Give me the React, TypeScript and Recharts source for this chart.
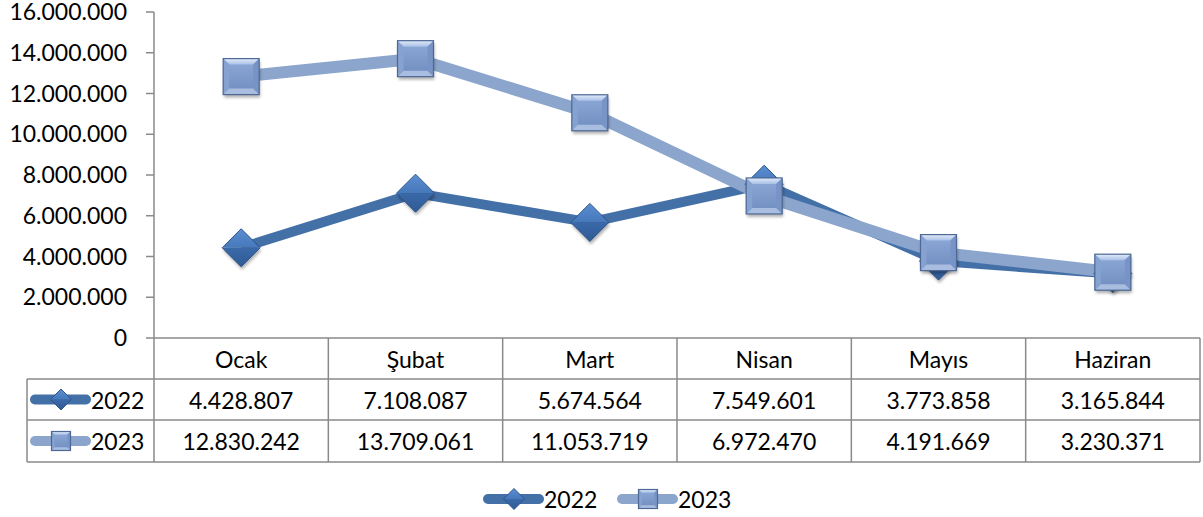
import { LineChart, Line, XAxis, YAxis, Customized } from "recharts";

const MONTHS = ["Ocak", "Şubat", "Mart", "Nisan", "Mayıs", "Haziran"];
const SALES_2022 = [4428807, 7108087, 5674564, 7549601, 3773858, 3165844];
const SALES_2023 = [12830242, 13709061, 11053719, 6972470, 4191669, 3230371];
const Y_TICKS = [0, 2000000, 4000000, 6000000, 8000000, 10000000, 12000000, 14000000, 16000000];
const SERIES = [
  { key: "y2022", name: "2022", values: SALES_2022 },
  { key: "y2023", name: "2023", values: SALES_2023 },
];

const data = MONTHS.map((m, i) => ({ i, month: m, y2022: SALES_2022[i], y2023: SALES_2023[i] }));

// layout
const W = 1203;
const H = 517;
const PLOT_L = 154;
const PLOT_R = 1200;
const PLOT_T = 12;
const PLOT_B = 338;
const CELL_W = (PLOT_R - PLOT_L) / MONTHS.length;
const ROW1 = 379;
const ROW2 = 420;
const ROW_END = 462;
const KEY_L = 27;
const GRID = "#8a8a8a";
const FONT = "Lato, 'Open Sans', sans-serif";
const FS = 23;
const C22 = "#4470a8";
const C23 = "#8ca5cc";

const fmt = (n: number) => String(n).replace(/\B(?=(\d{3})+(?!\d))/g, ".");

function Defs() {
  return (
    <defs>
      <filter id="mkShadow" x="-50%" y="-50%" width="200%" height="200%">
        <feGaussianBlur stdDeviation="1.6" />
      </filter>
      <linearGradient id="sqFace" x1="0" y1="0" x2="0" y2="1">
        <stop offset="0" stopColor="#8eaad8" />
        <stop offset="1" stopColor="#6f8cbf" />
      </linearGradient>
      <linearGradient id="sqTop" x1="0" y1="0" x2="0" y2="1">
        <stop offset="0" stopColor="#e2ecfa" />
        <stop offset="1" stopColor="#a9c0e6" />
      </linearGradient>
      <linearGradient id="dmTop" x1="0" y1="0" x2="0" y2="1">
        <stop offset="0" stopColor="#5a8fd2" />
        <stop offset="1" stopColor="#4678ba" />
      </linearGradient>
      <linearGradient id="dmBot" x1="0" y1="0" x2="0" y2="1">
        <stop offset="0" stopColor="#3b69a9" />
        <stop offset="1" stopColor="#2f5a95" />
      </linearGradient>
    </defs>
  );
}

function Square({ cx, cy, s = 36, shadow = true }: { cx: number; cy: number; s?: number; shadow?: boolean }) {
  const h = s / 2;
  const b = s / 6;
  const x0 = cx - h, x1 = cx + h, y0 = cy - h, y1 = cy + h;
  return (
    <g>
      {shadow && <rect x={x0 + 1} y={y0 + 3} width={s} height={s} fill="#000" opacity={0.3} filter="url(#mkShadow)" />}
      <rect x={x0} y={y0} width={s} height={s} fill="url(#sqFace)" />
      <polygon points={`${x0},${y0} ${x1},${y0} ${x1 - b},${y0 + b} ${x0 + b},${y0 + b}`} fill="url(#sqTop)" />
      <polygon points={`${x0},${y0} ${x0 + b},${y0 + b} ${x0 + b},${y1 - b} ${x0},${y1}`} fill="#86a2d0" />
      <polygon points={`${x1},${y0} ${x1},${y1} ${x1 - b},${y1 - b} ${x1 - b},${y0 + b}`} fill="#7894c6" />
      <polygon points={`${x0},${y1} ${x1},${y1} ${x1 - b},${y1 - b} ${x0 + b},${y1 - b}`} fill="#a9bde0" />
      <rect x={x0} y={y0} width={s} height={s} fill="none" stroke="#4d6894" strokeWidth={1.2} />
    </g>
  );
}

function Diamond({ cx, cy, s = 38, shadow = true }: { cx: number; cy: number; s?: number; shadow?: boolean }) {
  const h = s / 2;
  return (
    <g>
      {shadow && (
        <polygon
          points={`${cx + 1},${cy - h + 3} ${cx + h + 1},${cy + 3} ${cx + 1},${cy + h + 3} ${cx - h + 1},${cy + 3}`}
          fill="#000"
          opacity={0.3}
          filter="url(#mkShadow)"
        />
      )}
      <polygon points={`${cx},${cy - h} ${cx + h},${cy} ${cx - h},${cy}`} fill="url(#dmTop)" />
      <polygon points={`${cx - h},${cy} ${cx + h},${cy} ${cx},${cy + h}`} fill="url(#dmBot)" />
      <polygon
        points={`${cx},${cy - h} ${cx + h},${cy} ${cx},${cy + h} ${cx - h},${cy}`}
        fill="none"
        stroke="#2d548c"
        strokeWidth={1}
      />
    </g>
  );
}

// legend key: thick line with marker, label right after it
function Key({ x, y, name }: { x: number; y: number; name: string }) {
  const is22 = name === "2022";
  return (
    <g>
      <line x1={x + 9} x2={x + 60} y1={y} y2={y} stroke={is22 ? C22 : C23} strokeWidth={10} strokeLinecap="round" />
      {is22 ? <Diamond cx={x + 35} cy={y} s={21} shadow={false} /> : <Square cx={x + 35} cy={y} s={19} shadow={false} />}
      <text x={x + 65} y={y} dominantBaseline="central" fontSize={FS} fontFamily={FONT} fill="#000">
        {name}
      </text>
    </g>
  );
}

function TableSide() {
  const rows = [ROW1, ROW2, ROW_END];
  return (
    <g>
      <Defs />
      {rows.map((y) => (
        <line key={y} x1={KEY_L} x2={PLOT_R} y1={y} y2={y} stroke={GRID} strokeWidth={1.5} />
      ))}
      <line x1={KEY_L} x2={KEY_L} y1={ROW1} y2={ROW_END} stroke={GRID} strokeWidth={1.5} />
      {SERIES.map((s, r) => (
        <Key key={s.key} x={KEY_L - 1} y={(r === 0 ? ROW1 + ROW2 : ROW2 + ROW_END) / 2} name={s.name} />
      ))}
      <Key x={479} y={499} name={SERIES[0].name} />
      <Key x={613} y={499} name={SERIES[1].name} />
    </g>
  );
}

// eslint-disable-next-line @typescript-eslint/no-explicit-any
function TableTick(props: any) {
  const { x, payload } = props;
  const i = payload.value as number;
  const left = x - CELL_W / 2;
  const right = x + CELL_W / 2;
  const txt = { textAnchor: "middle" as const, dominantBaseline: "central" as const, fontSize: FS, fontFamily: FONT, fill: "#000" };
  return (
    <g>
      {i === 0 && <line x1={left} x2={left} y1={PLOT_B} y2={ROW_END} stroke={GRID} strokeWidth={1.5} />}
      <line x1={right} x2={right} y1={PLOT_B} y2={ROW_END} stroke={GRID} strokeWidth={1.5} />
      <text x={x} y={(PLOT_B + ROW1) / 2} {...txt}>{MONTHS[i]}</text>
      <text x={x} y={(ROW1 + ROW2) / 2} {...txt}>{fmt(SALES_2022[i])}</text>
      <text x={x} y={(ROW2 + ROW_END) / 2} {...txt}>{fmt(SALES_2023[i])}</text>
    </g>
  );
}

export default function App() {
  return (
    <div style={{ position: "absolute", left: 0, top: 0, width: W, height: H, background: "#fff" }}>
      <LineChart width={W} height={H} data={data} margin={{ top: PLOT_T, right: W - PLOT_R, left: 0, bottom: 0 }}>
        <Customized component={TableSide} />
        <XAxis
          dataKey="i"
          type="number"
          domain={[-0.5, MONTHS.length - 0.5]}
          ticks={MONTHS.map((_, i) => i)}
          height={H - PLOT_B}
          axisLine={{ stroke: GRID, strokeWidth: 1.5 }}
          tickLine={false}
          tickSize={0}
          tick={<TableTick />}
          interval={0}
        />
        <YAxis
          width={PLOT_L}
          domain={[0, 16000000]}
          ticks={Y_TICKS}
          interval={0}
          tickFormatter={fmt}
          axisLine={{ stroke: GRID, strokeWidth: 1.5 }}
          tickLine={{ stroke: GRID, strokeWidth: 1.5 }}
          tickSize={8}
          tickMargin={19}
          tick={{ fill: "#000", fontSize: FS, fontFamily: FONT }}
        />
        <Line
          dataKey="y2022"
          stroke={C22}
          strokeWidth={10}
          strokeLinejoin="round"
          isAnimationActive={false}
          activeDot={false}
          // eslint-disable-next-line @typescript-eslint/no-explicit-any
          dot={(p: any) => <Diamond key={`d${p.index}`} cx={p.cx} cy={p.cy} />}
        />
        <Line
          dataKey="y2023"
          stroke={C23}
          strokeWidth={12}
          strokeLinejoin="round"
          isAnimationActive={false}
          activeDot={false}
          // eslint-disable-next-line @typescript-eslint/no-explicit-any
          dot={(p: any) => <Square key={`s${p.index}`} cx={p.cx} cy={p.cy} />}
        />
      </LineChart>
    </div>
  );
}
